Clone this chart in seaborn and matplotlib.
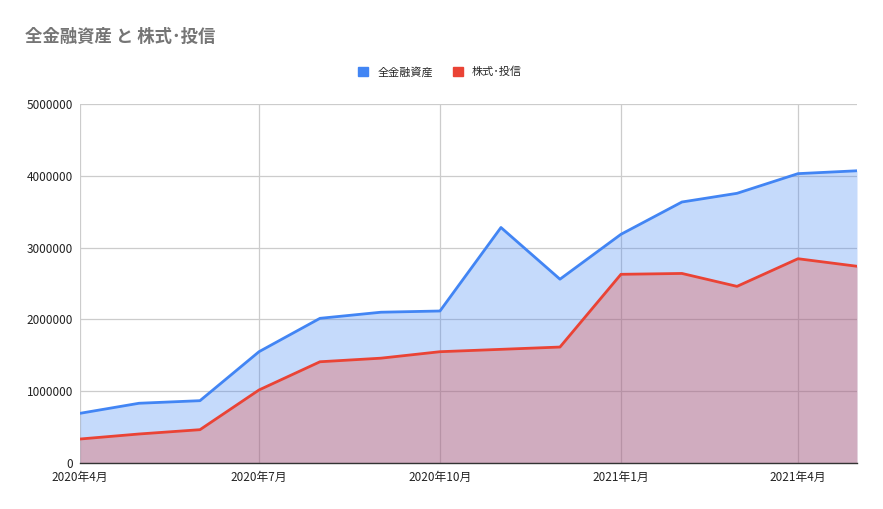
import pandas as pd
import matplotlib
matplotlib.use("Agg")
import matplotlib.pyplot as plt
from matplotlib.patches import Patch
import seaborn as sns

# data
months = ["2020-04", "2020-05", "2020-06", "2020-07", "2020-08", "2020-09", "2020-10",
          "2020-11", "2020-12", "2021-01", "2021-02", "2021-03", "2021-04", "2021-05"]
total_assets = [692000, 832000, 868000, 1550000, 2015000, 2100000, 2117000,
                3280000, 2560000, 3185000, 3635000, 3756000, 4030000, 4070000]
stocks_funds = [334000, 404000, 464000, 1017000, 1410000, 1460000, 1550000,
                1583000, 1615000, 2628000, 2640000, 2460000, 2845000, 2740000]
tick_months = ["2020-04", "2020-07", "2020-10", "2021-01", "2021-04"]
tick_labels = ["2020年4月", "2020年7月", "2020年10月", "2021年1月", "2021年4月"]
series_names = ["全金融資産", "株式･投信"]
title = "全金融資産 と 株式･投信"

df = pd.DataFrame({"month": pd.to_datetime(months),
                   series_names[0]: total_assets,
                   series_names[1]: stocks_funds})
long_df = df.melt(id_vars="month", var_name="series", value_name="value")

sns.set_style("white")
plt.rcParams["font.family"] = ["Noto Sans CJK JP", "DejaVu Sans"]

blue = "#4285F4"
red = "#EA4335"

fig = plt.figure(figsize=(8.83, 5.09), dpi=100)
ax = fig.add_axes([80 / 883, 46 / 509, 777 / 883, 359 / 509])

ax.fill_between(df["month"], df[series_names[0]], color=blue, alpha=0.3, lw=0)
ax.fill_between(df["month"], df[series_names[1]], color=red, alpha=0.3, lw=0)
sns.lineplot(data=long_df, x="month", y="value", hue="series",
             palette=[blue, red], linewidth=2, ax=ax, legend=False)

ax.set_xlim(df["month"].iloc[0], df["month"].iloc[-1])
ax.set_ylim(0, 5000000)
ax.set_yticks(range(0, 5000001, 1000000))
ax.set_yticklabels([str(v) for v in range(0, 5000001, 1000000)])
ax.set_xticks(pd.to_datetime(tick_months))
ax.set_xticklabels(tick_labels)
ax.grid(True, color="#cccccc", linewidth=0.9)
for line in ax.get_xgridlines() + ax.get_ygridlines():
    line.set_zorder(0.5)
ax.set_xlabel("")
ax.set_ylabel("")
for side in ["top", "right", "left"]:
    ax.spines[side].set_visible(False)
ax.spines["bottom"].set_color("#333333")
ax.spines["bottom"].set_linewidth(1)
ax.tick_params(axis="both", length=0, labelsize=8.5, colors="#222222")
ax.tick_params(axis="x", pad=6)
ax.tick_params(axis="y", pad=5)

fig.text(25 / 883, 1 - 37 / 509, title, fontsize=12.5, fontweight="bold",
         color="#757575", va="center", ha="left")

handles = [Patch(facecolor=blue, edgecolor=blue), Patch(facecolor=red, edgecolor=red)]
fig.legend(handles, series_names, loc="center", bbox_to_anchor=(440 / 883, 1 - 72 / 509),
           ncol=2, frameon=False, fontsize=8, handlelength=0.9, handleheight=0.9,
           handletextpad=0.8, columnspacing=1.8)

fig.savefig("out.png", dpi=100)
